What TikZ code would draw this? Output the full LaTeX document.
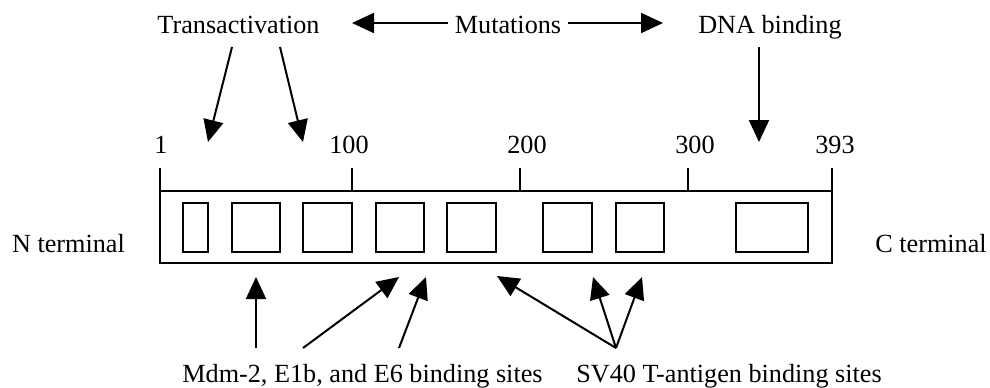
\documentclass[tikz,border=0pt]{standalone}
\usepackage{fontspec}
\setmainfont{Liberation Serif}
\usetikzlibrary{arrows.meta}
\begin{document}
\begin{tikzpicture}[x=0.5pt,y=-0.5pt,
  every node/.style={font=\fontsize{13.1}{15}\selectfont, inner sep=0pt},
  lbl/.style={anchor=base},
  ln/.style={line width=1pt},
  arr/.style={ln, -{Triangle[length=11pt,width=10pt]}},
  site/.style={draw, line width=1pt, minimum height=24.5pt},
]
\useasboundingbox (0,0) rectangle (990,387);

% headings
\node[lbl] (trans) at (238.5,33) {Transactivation};
\node[lbl] (mut)   at (508,33)   {Mutations};
\node[lbl] (dna)   at (770,33)   {DNA binding};

% residue numbers
\node[lbl] (n1)   at (161,153) {1};
\node[lbl] (n100) at (349,153) {100};
\node[lbl] (n200) at (527,153) {200};
\node[lbl] (n300) at (695,153) {300};
\node[lbl] (n393) at (835,153) {393};

% terminal labels
\node[lbl] (nterm) at (68.5,252) {N terminal};
\node[lbl] (cterm) at (931,252)  {C terminal};

% bottom labels
\node[lbl] (mdm) at (362.5,382) {Mdm-2, E1b, and E6 binding sites};
\node[lbl] (sv)  at (729,382)   {SV40 T-antigen binding sites};

% protein bar and scale ticks
\draw[ln] (160,191) rectangle (832,263);
\draw[ln] (160,168) -- (160,191);
\draw[ln] (352,168) -- (352,191);
\draw[ln] (520,168) -- (520,191);
\draw[ln] (688,168) -- (688,191);
\draw[ln] (832,168) -- (832,191);

% domains
\node[site, minimum width=12.5pt] (s1) at (195.5,227.5) {};
\node[site, minimum width=24pt]   (s2) at (256,227.5)   {};
\node[site, minimum width=24.5pt] (s3) at (327.5,227.5) {};
\node[site, minimum width=24pt]   (s4) at (400,227.5)   {};
\node[site, minimum width=24.5pt] (s5) at (471.5,227.5) {};
\node[site, minimum width=24.5pt] (s6) at (567.5,227.5) {};
\node[site, minimum width=24pt]   (s7) at (640,227.5)   {};
\node[site, minimum width=36pt]   (s8) at (772,227.5)   {};

% arrow end points
\coordinate (mL0) at (448,23);  \coordinate (mL1) at (352,23);
\coordinate (mR0) at (568,23);  \coordinate (mR1) at (663,23);
\coordinate (t1a) at (232,47);  \coordinate (t1b) at (208,142);
\coordinate (t2a) at (280,47);  \coordinate (t2b) at (303,142);
\coordinate (da)  at (759,47);  \coordinate (db)  at (759,142);
\coordinate (b1a) at (256,348); \coordinate (b1b) at (256,277);
\coordinate (b2a) at (303,348); \coordinate (b2b) at (399,277);
\coordinate (b3a) at (399,348); \coordinate (b3b) at (426,277);
\coordinate (sva) at (616,348);
\coordinate (b4b) at (497,276);
\coordinate (b5b) at (593,277);
\coordinate (b6b) at (642,277);

% connectors
\draw[arr] (mL0) -- (mL1);
\draw[arr] (mR0) -- (mR1);
\draw[arr] (t1a) -- (t1b);
\draw[arr] (t2a) -- (t2b);
\draw[arr] (da) -- (db);
\draw[arr] (b1a) -- (b1b);
\draw[arr] (b2a) -- (b2b);
\draw[arr] (b3a) -- (b3b);
\draw[arr] (sva) -- (b4b);
\draw[arr] (sva) -- (b5b);
\draw[arr] (sva) -- (b6b);
\end{tikzpicture}
\end{document}
